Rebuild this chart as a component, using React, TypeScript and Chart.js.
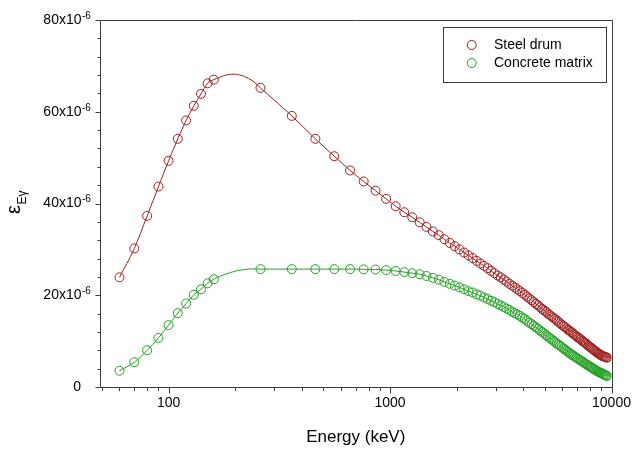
import React, { useEffect, useRef } from 'react';
import { Chart, registerables } from 'chart.js';

Chart.register(...registerables);

// Energies (keV)
const lowEnergies = [60, 70, 80, 90, 100, 110, 120, 130, 140, 150, 160];
const highEnergies = [
  260, 360, 460, 560, 660, 760, 860, 960,
  1060, 1160, 1260, 1360, 1460, 1560, 1660, 1760, 1860, 1960,
  2060, 2160, 2260, 2360, 2460, 2560, 2660, 2760, 2860, 2960,
  3060, 3160, 3260, 3360, 3460, 3560, 3660, 3760, 3860, 3960,
  4060, 4160, 4260, 4360, 4460, 4560, 4660, 4760, 4860, 4960,
  5060, 5160, 5260, 5360, 5460, 5560, 5660, 5760, 5860, 5960,
  6060, 6160, 6260, 6360, 6460, 6560, 6660, 6760, 6860, 6960,
  7060, 7160, 7260, 7360, 7460, 7560, 7660, 7760, 7860, 7960,
  8060, 8160, 8260, 8360, 8460, 8560, 8660, 8760, 8860, 8960,
  9060, 9160, 9260, 9360, 9460, 9560,
];

// Efficiency values in units of 10^-6
const steelLow = [23.9, 30.2, 37.3, 43.7, 49.3, 54.1, 58.1, 61.3, 63.9, 66.2, 67.0];
const steelHigh = [
  65.2, 59.1, 54.1, 50.3, 47.2, 44.8, 42.8, 41.0,
  39.4, 38.1, 37.0, 35.9, 34.9, 33.9, 33.1, 32.2, 31.4, 30.7,
  30.0, 29.3, 28.7, 28.1, 27.5, 26.9, 26.4, 25.9, 25.3, 24.8,
  24.3, 23.9, 23.4, 23.0, 22.5, 22.1, 21.7, 21.3, 20.9, 20.5,
  20.1, 19.7, 19.3, 18.9, 18.5, 18.1, 17.8, 17.4, 17.0, 16.7,
  16.4, 16.0, 15.7, 15.4, 15.1, 14.8, 14.5, 14.2, 13.9, 13.6,
  13.3, 13.1, 12.8, 12.5, 12.3, 12.0, 11.8, 11.5, 11.3, 11.0,
  10.8, 10.6, 10.4, 10.1, 9.9, 9.7, 9.5, 9.25, 9.0, 8.8,
  8.6, 8.4, 8.2, 8.0, 7.8, 7.6, 7.4, 7.25, 7.1, 6.95,
  6.8, 6.7, 6.65, 6.55, 6.45, 6.4,
];
const concreteLow = [3.55, 5.4, 8.0, 10.7, 13.5, 16.1, 18.2, 20.1, 21.3, 22.6, 23.5];
const concreteHigh = [
  25.7, 25.7, 25.7, 25.7, 25.7, 25.65, 25.6, 25.5,
  25.3, 25.05, 24.8, 24.6, 24.2, 23.8, 23.4, 22.9, 22.5, 22.1,
  21.7, 21.3, 20.9, 20.6, 20.2, 19.9, 19.5, 19.2, 18.8, 18.5,
  18.1, 17.8, 17.45, 17.1, 16.8, 16.4, 16.1, 15.8, 15.5, 15.1,
  14.8, 14.4, 14.0, 13.7, 13.35, 13.0, 12.7, 12.3, 12.0, 11.7,
  11.3, 11.0, 10.7, 10.4, 10.1, 9.8, 9.5, 9.25, 9.0, 8.7,
  8.4, 8.2, 7.9, 7.65, 7.4, 7.2, 6.95, 6.75, 6.55, 6.35,
  6.15, 5.95, 5.75, 5.6, 5.4, 5.2, 5.0, 4.85, 4.7, 4.5,
  4.35, 4.2, 4.0, 3.85, 3.7, 3.55, 3.4, 3.3, 3.15, 3.05,
  2.95, 2.8, 2.7, 2.6, 2.5, 2.4,
];

// Fitted curve values in the gap between the low and high energy points
const gapEnergies = [170, 180, 190, 200, 210, 220, 240];
const steelGapFit = [67.5, 67.95, 68.15, 68.2, 68.0, 67.7, 66.7];
const concreteGapFit = [24.1, 24.55, 24.95, 25.25, 25.45, 25.6, 25.75];

const xTickLabels = ['100', '1000', '10000'];
const xTickValues = [100, 1000, 10000];
const yMajorValues = [0, 20, 40, 60, 80];

const RED = '#9e1f1f';
const GREEN = '#22a022';
const AXIS = '#3c3c3c';
const FONT = '"Liberation Sans", Arial, sans-serif';

function pts(xs: number[], ys: number[]) {
  return xs.map((x, i) => ({ x, y: ys[i] }));
}

function fitLine(lowX: number[], lowY: number[], gX: number[], gY: number[], hX: number[], hY: number[]) {
  return [...pts(lowX, lowY), ...pts(gX, gY), ...pts(hX, hY)];
}

const decorPlugin = {
  id: 'decor',
  afterDraw(chart: any) {
    const { ctx, chartArea: a, scales } = chart;
    const xs = scales.x;
    const ys = scales.y;
    const L = Math.round(a.left) + 0.5;
    const R = Math.round(a.right) + 0.5;
    const T = Math.round(a.top) + 0.5;
    const B = Math.round(a.bottom) + 0.5;
    ctx.save();
    ctx.strokeStyle = AXIS;
    ctx.lineWidth = 1;
    ctx.beginPath();
    ctx.moveTo(L, T); ctx.lineTo(R, T); ctx.lineTo(R, B); ctx.lineTo(L, B); ctx.closePath();
    ctx.stroke();

    // x ticks (log)
    ctx.beginPath();
    for (const d of [10, 100, 1000]) {
      for (let m = 1; m <= 9; m++) {
        const v = m * d;
        if (v < xs.min || v > xs.max) continue;
        const px = Math.round(xs.getPixelForValue(v)) + 0.5;
        const len = m === 1 ? 6 : 3.5;
        ctx.moveTo(px, B); ctx.lineTo(px, B + len);
      }
    }
    const pxMax = Math.round(xs.getPixelForValue(10000)) + 0.5;
    ctx.moveTo(pxMax, B); ctx.lineTo(pxMax, B + 6);
    // y ticks
    for (let v = 0; v <= 80; v += 4) {
      const py = Math.round(ys.getPixelForValue(v)) + 0.5;
      const len = v % 20 === 0 ? 5 : 3;
      ctx.moveTo(L, py); ctx.lineTo(L - len, py);
    }
    ctx.stroke();

    // x labels
    ctx.fillStyle = '#000';
    ctx.font = `14px ${FONT}`;
    ctx.textAlign = 'center';
    ctx.textBaseline = 'alphabetic';
    xTickValues.forEach((v, i) => {
      ctx.fillText(xTickLabels[i], xs.getPixelForValue(v), 407);
    });

    // y labels
    yMajorValues.forEach((v) => {
      const py = ys.getPixelForValue(v);
      ctx.font = `14px ${FONT}`;
      ctx.textAlign = 'right';
      ctx.textBaseline = 'middle';
      if (v === 0) {
        ctx.fillText('0', 81, py);
      } else {
        ctx.fillText(`${v}x10`, 81.5, py);
        ctx.font = `10px ${FONT}`;
        ctx.textAlign = 'left';
        ctx.fillText('-6', 82, py - 4);
      }
    });

    // x title
    ctx.font = `17px ${FONT}`;
    ctx.textAlign = 'center';
    ctx.textBaseline = 'alphabetic';
    ctx.fillText('Energy (keV)', (a.left + a.right) / 2, 442);

    // y title: epsilon with subscript E gamma
    ctx.save();
    ctx.translate(20, 214);
    ctx.rotate(-Math.PI / 2);
    ctx.textAlign = 'left';
    ctx.textBaseline = 'alphabetic';
    ctx.font = `20px ${FONT}`;
    ctx.fillText('ε', 0, 0);
    const w = ctx.measureText('ε').width;
    ctx.font = `12px ${FONT}`;
    ctx.fillText('Eγ', w + 0.5, 6);
    ctx.restore();

    // legend
    ctx.strokeStyle = AXIS;
    ctx.strokeRect(443.5, 27.5, 163, 55);
    const items = [
      { label: 'Steel drum', color: RED, y: 45 },
      { label: 'Concrete matrix', color: GREEN, y: 63 },
    ];
    items.forEach((it) => {
      ctx.beginPath();
      ctx.strokeStyle = it.color;
      ctx.arc(471.7, it.y, 4.5, 0, Math.PI * 2);
      ctx.stroke();
      ctx.fillStyle = '#000';
      ctx.font = `14px ${FONT}`;
      ctx.textAlign = 'left';
      ctx.textBaseline = 'middle';
      ctx.fillText(it.label, 494, it.y);
    });
    ctx.restore();
  },
};

export default function App() {
  const ref = useRef<HTMLCanvasElement | null>(null);
  useEffect(() => {
    if (!ref.current) return;
    const steelPts = [...pts(lowEnergies, steelLow), ...pts(highEnergies, steelHigh)];
    const concretePts = [...pts(lowEnergies, concreteLow), ...pts(highEnergies, concreteHigh)];
    const chart = new Chart(ref.current, {
      type: 'scatter',
      data: {
        datasets: [
          {
            label: 'Steel drum fit',
            data: fitLine(lowEnergies, steelLow, gapEnergies, steelGapFit, highEnergies, steelHigh),
            showLine: true,
            borderColor: RED,
            borderWidth: 1,
            pointRadius: 0,
            cubicInterpolationMode: 'monotone',
          },
          {
            label: 'Concrete matrix fit',
            data: fitLine(lowEnergies, concreteLow, gapEnergies, concreteGapFit, highEnergies, concreteHigh),
            showLine: true,
            borderColor: GREEN,
            borderWidth: 1,
            pointRadius: 0,
            cubicInterpolationMode: 'monotone',
          },
          {
            label: 'Steel drum',
            data: steelPts,
            showLine: false,
            pointRadius: 4.5,
            pointBorderWidth: 1,
            pointBorderColor: RED,
            pointBackgroundColor: 'rgba(0,0,0,0)',
          },
          {
            label: 'Concrete matrix',
            data: concretePts,
            showLine: false,
            pointRadius: 4.5,
            pointBorderWidth: 1,
            pointBorderColor: GREEN,
            pointBackgroundColor: 'rgba(0,0,0,0)',
          },
        ],
      } as any,
      options: {
        responsive: false,
        animation: false,
        devicePixelRatio: 1,
        layout: { padding: { left: 0, top: 20, right: 20.5, bottom: 0 } },
        plugins: { legend: { display: false }, tooltip: { enabled: false } },
        scales: {
          x: {
            type: 'logarithmic',
            min: 49,
            max: 10000,
            grid: { display: false },
            border: { display: false },
            ticks: { display: false },
            afterFit: (s: any) => { s.height = 62; },
          },
          y: {
            type: 'linear',
            min: 0,
            max: 80,
            grid: { display: false },
            border: { display: false },
            ticks: { display: false },
            afterFit: (s: any) => { s.width = 100; },
          },
        },
      } as any,
      plugins: [decorPlugin],
    });
    return () => chart.destroy();
  }, []);
  return (
    <div style={{ position: 'absolute', left: 0, top: 0, width: 632, height: 449, background: '#fff' }}>
      <canvas ref={ref} width={632} height={449} />
    </div>
  );
}
